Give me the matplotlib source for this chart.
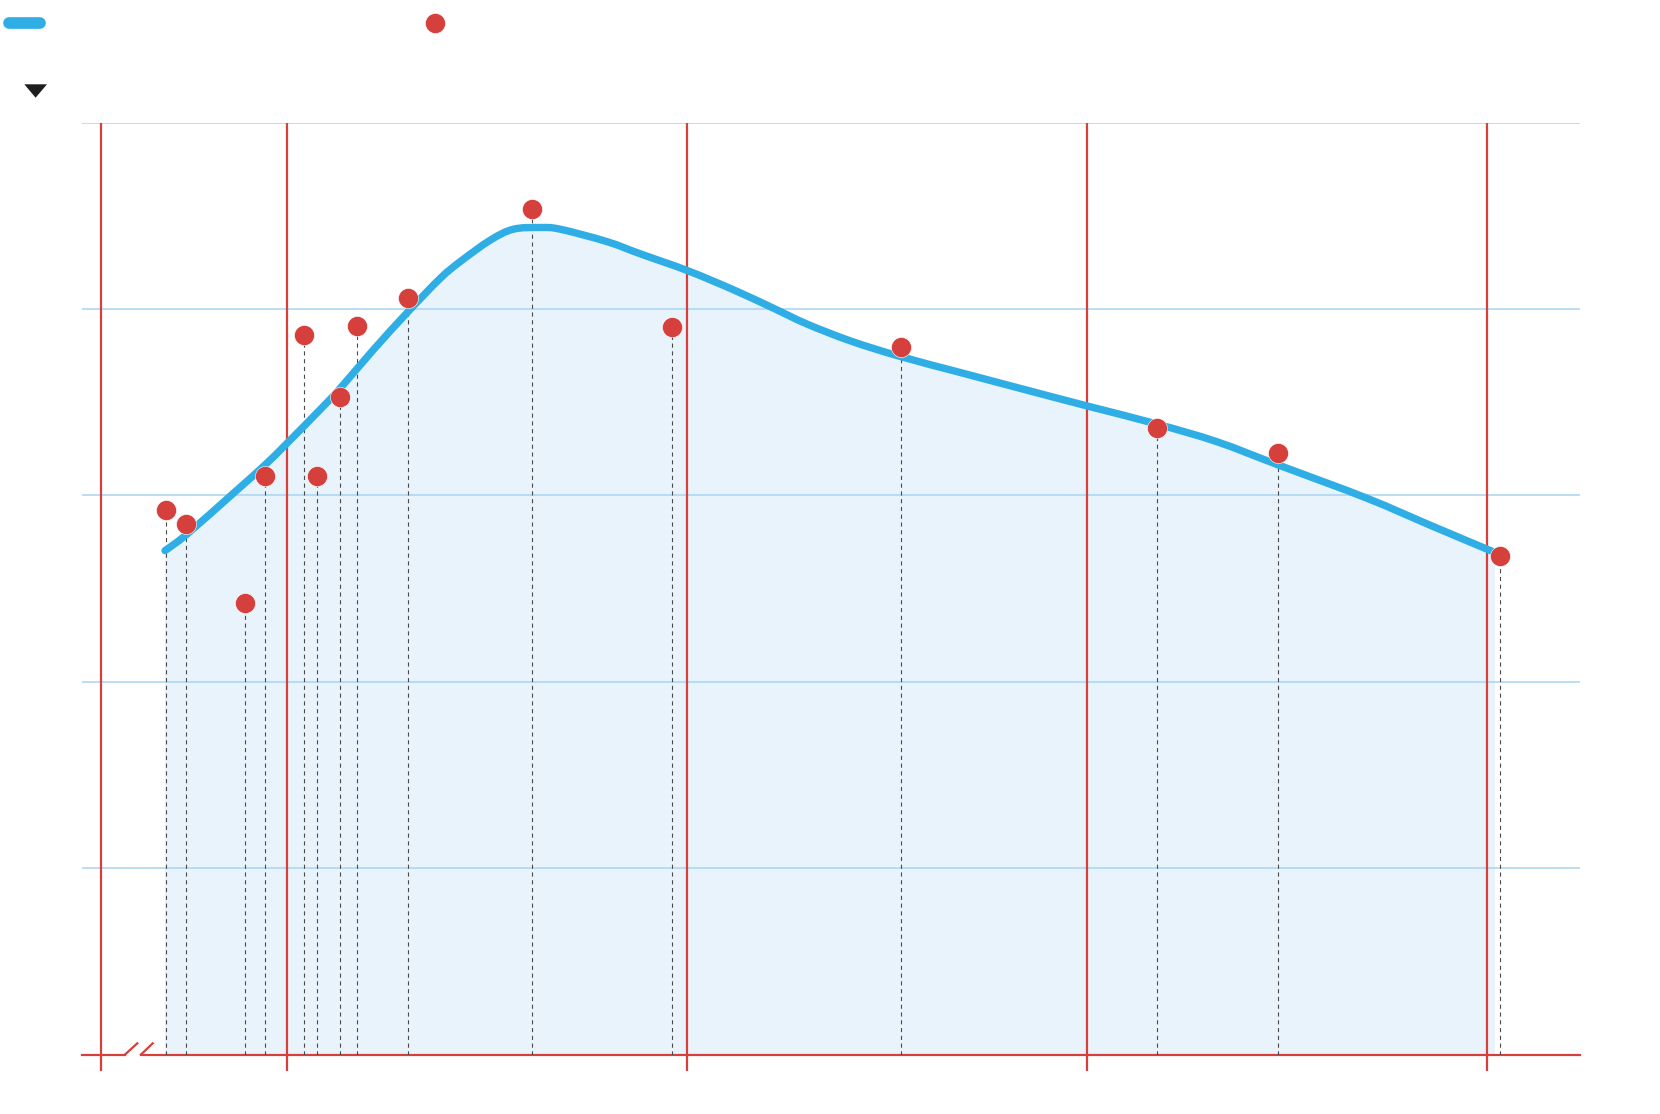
import matplotlib
matplotlib.use("Agg")
import matplotlib.pyplot as plt
from matplotlib.lines import Line2D
from matplotlib.patches import Polygon, PathPatch
from matplotlib.path import Path
import numpy as np

# smoothed trend line
curve_x = [0.695, 0.748, 0.866, 0.945, 0.999, 1.087, 1.133, 1.216, 1.303, 1.383,
           1.433, 1.508, 1.566, 1.633, 1.683, 1.799, 1.883, 2.001, 2.116, 2.216,
           2.299, 2.408, 2.533, 2.699, 2.866, 3.001, 3.174, 3.324, 3.478, 3.699,
           3.866, 4.020]
curve_y = [2.704, 2.789, 3.012, 3.164, 3.278, 3.470, 3.575, 3.782, 3.987, 4.165,
           4.255, 4.370, 4.429, 4.438, 4.429, 4.363, 4.297, 4.207, 4.104, 4.005,
           3.921, 3.830, 3.746, 3.651, 3.556, 3.480, 3.384, 3.289, 3.164, 2.986,
           2.833, 2.694]

# observations
obs_x = [0.698, 0.748, 0.896, 0.945, 1.043, 1.074, 1.133, 1.175, 1.303, 1.612,
         1.963, 2.536, 3.174, 3.478, 4.032]
obs_y = [2.923, 2.849, 2.425, 3.107, 3.860, 3.107, 3.526, 3.912, 4.059, 4.535,
         3.903, 3.796, 3.361, 3.227, 2.674]

grid_y = [1, 2, 3, 4, 5]
year_lines = [0.5345, 1, 2, 3, 4]

blue = "#2EAEE4"
red = "#D6403C"
fill_col = "#E8F3FC"
grid_col = "#A8D4F2"

plt.rcParams["lines.scale_dashes"] = False


def smooth_path(xs, ys):
    # catmull-rom drawn as cubic bezier segments through the given points
    pts = np.column_stack([xs, ys])
    verts = [pts[0]]
    codes = [Path.MOVETO]
    n = len(pts)
    for i in range(n - 1):
        p0 = pts[max(i - 1, 0)]
        p1 = pts[i]
        p2 = pts[i + 1]
        p3 = pts[min(i + 2, n - 1)]
        c1 = p1 + (p2 - p0) / 6
        c2 = p2 - (p3 - p1) / 6
        verts += [c1, c2, p2]
        codes += [Path.CURVE4] * 3
    return verts, codes


W, H = 1660, 1114
fig = plt.figure(figsize=(W / 100, H / 100), dpi=100)

# plot area: x from 81.5px to 1580px, y=0 at 1054.5px, y=5 at 122.8px
ax = fig.add_axes([81.5 / W, (H - 1054.5) / H, (1580 - 81.5) / W, (1054.5 - 122.8) / H])
ax.set_xlim(0.48625, 4.2325)
ax.set_ylim(0, 5)
ax.axis("off")

verts, codes = smooth_path(curve_x, curve_y)

# area under the curve
fill_verts = verts + [(curve_x[-1], 0), (curve_x[0], 0), verts[0]]
fill_codes = codes + [Path.LINETO, Path.LINETO, Path.CLOSEPOLY]
ax.add_patch(PathPatch(Path(fill_verts, fill_codes), facecolor=fill_col, lw=0, zorder=1))

ax.hlines(grid_y, 0.48625, 4.2325, color=grid_col, lw=1.1, zorder=2)
ax.vlines(year_lines, -0.0886, 5, color=red, lw=1.6, zorder=3, clip_on=False)

# x axis with break marks
ax.plot([0.48625, 0.595], [0, 0], color=red, lw=1.6, zorder=3, clip_on=False)
ax.plot([0.635, 4.2325], [0, 0], color=red, lw=1.6, zorder=3, clip_on=False)
ax.plot([0.595, 0.6258], [0, 0.06], color=red, lw=1.6, zorder=3, clip_on=False)
ax.plot([0.635, 0.6643], [0, 0.06], color=red, lw=1.6, zorder=3, clip_on=False)

# drop lines
for xv, yv in zip(obs_x, obs_y):
    ax.plot([xv, xv], [0, yv], color="#4a4a4a", lw=0.8, dashes=(3, 2.6), zorder=4)

ax.add_patch(PathPatch(Path(verts, codes), facecolor="none", edgecolor=blue, lw=5.3,
                       capstyle="round", joinstyle="round", zorder=5))
ax.plot(obs_x, obs_y, "o", color=red, ms=14.4, mec="white", mew=0.4, zorder=6,
        clip_on=False)

# legend keys (no text in the reference)
fig.add_artist(Line2D([9 / W, 40 / W], [1 - 22.5 / H, 1 - 22.5 / H],
                      color=blue, lw=8.4, solid_capstyle="round"))
fig.add_artist(Line2D([434.7 / W], [1 - 23.3 / H], marker="o", color=red, ms=14.4,
                      mec="white", mew=0.4))
fig.add_artist(Polygon([[24.3 / W, 1 - 84.3 / H], [47 / W, 1 - 84.3 / H],
                        [35.6 / W, 1 - 97.7 / H]], closed=True,
                       color="#1e1e1e", lw=0))

fig.savefig("out.png", dpi=100, facecolor="white")
